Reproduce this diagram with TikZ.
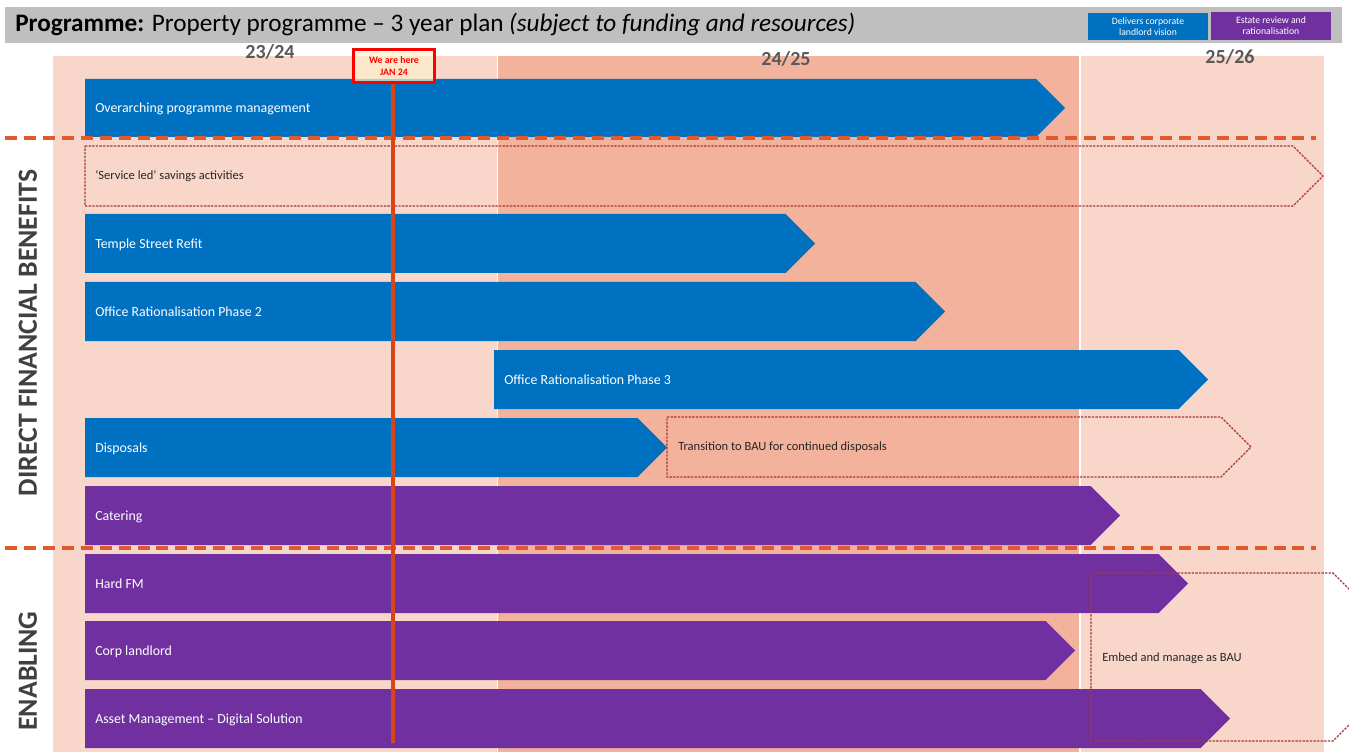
\documentclass[tikz,border=0pt]{standalone}
\usepackage{fontspec}
\setmainfont{Carlito}
\definecolor{hdrgray}{HTML}{BFBFBF}
\definecolor{yearlight}{HTML}{F8D7CA}
\definecolor{yeardark}{HTML}{F3B29B}
\definecolor{progblue}{HTML}{0070C0}
\definecolor{progpurple}{HTML}{7030A0}
\definecolor{divorange}{HTML}{E05A2B}
\definecolor{nowred}{HTML}{D6461A}
\definecolor{bauoutline}{HTML}{A83838}
\definecolor{labelgray}{HTML}{595959}
\definecolor{sidegray}{HTML}{404040}
\definecolor{noteyellow}{HTML}{FFF2CC}
\definecolor{darktext}{HTML}{262626}

% pentagon arrow: style, left x, tip x, top y, bottom y
\newcommand{\chevshape}[5]{%
  \path[#1] (#2,#4) -- ({#3-(#5-#4)/2},#4) -- (#3,{(#4+#5)/2})
    -- ({#3-(#5-#4)/2},#5) -- (#2,#5) -- cycle;}

\begin{document}
\begin{tikzpicture}[x=0.75pt,y=-0.75pt,
  bluebar/.style={fill=progblue},
  purplebar/.style={fill=progpurple},
  baubox/.style={draw=bauoutline,line width=0.9pt,dash pattern=on 1.8pt off 0.9pt},
  barlabel/.style={anchor=mid west,inner sep=0pt,yshift=-1.2pt,text=white,font=\fontsize{10.4}{12}\selectfont},
  baulabel/.style={anchor=mid west,inner sep=0pt,yshift=-0.6pt,text=darktext,font=\fontsize{9.4}{11}\selectfont},
  yearlabel/.style={inner sep=0pt,text=labelgray,font=\bfseries\fontsize{15}{18}\selectfont},
  sidelabel/.style={rotate=90,inner sep=0pt,text=sidegray,font=\bfseries\fontsize{20.8}{24}\selectfont},
  legendbox/.style={minimum width=90pt,minimum height=20.5pt,inner sep=0pt,align=center,
    text=white,font=\fontsize{7.3}{8.4}\selectfont},
  divider/.style={draw=divorange,line width=2.5pt,dash pattern=on 9pt off 5.2pt},
  nowline/.style={draw=nowred,line width=2.6pt}]
\useasboundingbox (0,0) rectangle (1349,752);
\begin{scope}
\clip (0,0) rectangle (1349,752);

% header strip
\fill[hdrgray] (5,7) rectangle (1342,43);
\node[anchor=base west,inner sep=0pt,font=\fontsize{18.9}{22}\selectfont] (title) at (15,32)
  {\textbf{Programme:} Property programme – 3 year plan \textit{(subject to funding and resources)}};
\node[legendbox,fill=progblue] (legA) at (1148,26.5) {Delivers corporate\\landlord vision};
\node[legendbox,fill=progpurple] (legB) at (1271,26) {Estate review and\\rationalisation};

% financial year columns
\fill[yearlight] (53,56) rectangle (497,752);
\fill[yeardark] (498,56) rectangle (1079,752);
\fill[yearlight] (1081,56) rectangle (1324,752);
\node[yearlabel] (fy1) at (270,52) {23/24};
\node[yearlabel] (fy2) at (786,59) {24/25};
\node[yearlabel] (fy3) at (1230,57) {25/26};

% section titles
\node[sidelabel] (direct) at (28,333) {DIRECT FINANCIAL BENEFITS};
\node[sidelabel] (enabling) at (28,671) {ENABLING};

% workstreams
\chevshape{bluebar}{85}{1065}{79}{137}
\node[barlabel] (ovr) at (95,108) {Overarching programme management};
\chevshape{baubox}{85}{1323}{146}{206}
\node[baulabel] (svc) at (95,176) {‘Service led’ savings activities};
\chevshape{bluebar}{85}{815}{214}{273}
\node[barlabel] (temple) at (95,243.5) {Temple Street Refit};
\chevshape{bluebar}{85}{945}{282}{341}
\node[barlabel] (orp2) at (95,311.5) {Office Rationalisation Phase 2};
\chevshape{bluebar}{494}{1208}{350}{409}
\node[barlabel] (orp3) at (504,379.5) {Office Rationalisation Phase 3};
\chevshape{bluebar}{85}{667}{418}{477}
\node[barlabel] (disp) at (95,447.5) {Disposals};
\chevshape{baubox}{667}{1251}{417}{477}
\node[baulabel] (trans) at (678,447) {Transition to BAU for continued disposals};
\chevshape{purplebar}{85}{1120}{486}{545}
\node[barlabel] (cater) at (95,515.5) {Catering};
\chevshape{purplebar}{85}{1188}{554}{613}
\node[barlabel] (hardfm) at (95,583.5) {Hard FM};
\chevshape{purplebar}{85}{1075}{621}{680}
\node[barlabel] (corp) at (95,650.5) {Corp landlord};
\chevshape{purplebar}{85}{1230}{689}{748}
\node[barlabel] (asset) at (95,718.5) {Asset Management – Digital Solution};
\chevshape{baubox}{1091}{1417}{573}{741}
\node[baulabel] (embed) at (1102,658) {Embed and manage as BAU};

% section dividers
\coordinate (divAs) at (5,138);
\coordinate (divAe) at (1316,138);
\coordinate (divBs) at (5,548);
\coordinate (divBe) at (1316,548);
\draw[divider] (divAs) -- (divAe);
\draw[divider] (divBs) -- (divBe);

% current position marker
\node[draw=red,line width=2.25pt,fill=noteyellow,fill opacity=0.7,text opacity=1,
  minimum width=61pt,minimum height=24.5pt,inner sep=0pt,align=center,
  text=red,font=\bfseries\fontsize{7.4}{9.2}\selectfont] (now) at (394,66) {We are here\\JAN 24};
\coordinate (nowend) at (393,743);
\draw[nowline] (now.south -| nowend) -- (nowend);
\end{scope}
\end{tikzpicture}
\end{document}
